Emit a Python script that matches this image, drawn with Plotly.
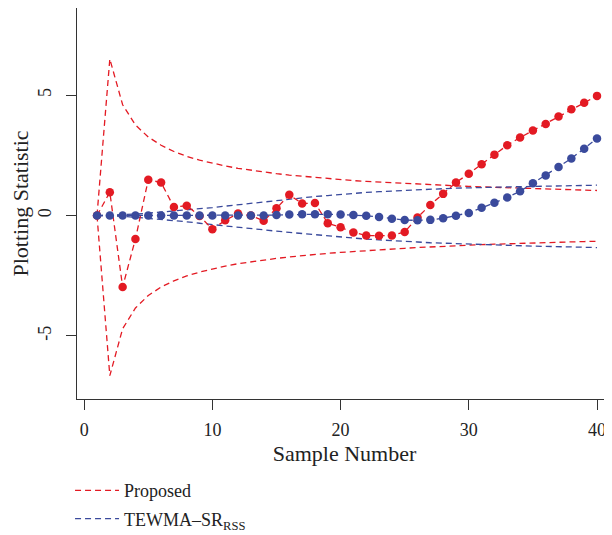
import plotly.graph_objects as go

samples = list(range(1, 41))

proposed_stat = [0, 0.97, -2.97, -0.97, 1.49, 1.37, 0.35, 0.41, -0.02, -0.57,
                 -0.2, 0.08, 0.0, -0.22, 0.3, 0.86, 0.5, 0.52, -0.32, -0.49,
                 -0.7, -0.83, -0.84, -0.83, -0.68, -0.08, 0.44, 0.9, 1.37, 1.74,
                 2.13, 2.53, 2.92, 3.24, 3.53, 3.8, 4.11, 4.41, 4.68, 4.97]

proposed_ucl = [0, 6.5, 4.6, 3.76, 3.26, 2.92, 2.66, 2.46, 2.3, 2.17,
                2.06, 1.96, 1.88, 1.8, 1.74, 1.68, 1.63, 1.58, 1.53, 1.49,
                1.45, 1.42, 1.39, 1.36, 1.33, 1.3, 1.28, 1.25, 1.23, 1.21,
                1.19, 1.17, 1.15, 1.13, 1.12, 1.1, 1.08, 1.07, 1.06, 1.04]

proposed_lcl = [0, -6.65, -4.7, -3.84, -3.32, -2.97, -2.71, -2.51, -2.35, -2.22,
                -2.1, -2.0, -1.92, -1.84, -1.78, -1.72, -1.66, -1.61, -1.57, -1.53,
                -1.49, -1.45, -1.42, -1.39, -1.36, -1.33, -1.3, -1.28, -1.26, -1.23,
                -1.21, -1.19, -1.17, -1.16, -1.14, -1.12, -1.11, -1.09, -1.08, -1.07]

tewma_stat = [0, 0, 0, 0, 0, 0, 0, 0, 0, 0,
              0, 0, 0, 0, 0.02, 0.04, 0.05, 0.05, 0.05, 0.04,
              0.02, -0.01, -0.06, -0.13, -0.19, -0.2, -0.18, -0.11, -0.01, 0.11,
              0.32, 0.53, 0.75, 1.01, 1.34, 1.66, 2.02, 2.37, 2.77, 3.2]

tewma_ucl = [0, 0.01, 0.03, 0.06, 0.1, 0.14, 0.18, 0.23, 0.28, 0.33,
             0.39, 0.45, 0.51, 0.57, 0.63, 0.69, 0.74, 0.79, 0.83, 0.88,
             0.92, 0.96, 0.99, 1.02, 1.05, 1.08, 1.1, 1.12, 1.14, 1.15,
             1.17, 1.18, 1.19, 1.2, 1.21, 1.22, 1.23, 1.24, 1.25, 1.26]

tewma_lcl = [0, -0.01, -0.03, -0.07, -0.11, -0.16, -0.21, -0.26, -0.32, -0.38,
             -0.43, -0.49, -0.55, -0.6, -0.65, -0.7, -0.75, -0.8, -0.85, -0.9,
             -0.94, -0.98, -1.01, -1.05, -1.08, -1.1, -1.13, -1.15, -1.17, -1.19,
             -1.21, -1.23, -1.25, -1.26, -1.27, -1.28, -1.3, -1.31, -1.32, -1.33]

x_ticks = [0, 10, 20, 30, 40]
y_ticks = [-5, 0, 5]

RED = "#E31A23"
BLUE = "#3A4A9C"
FONT = "Liberation Serif"
DASH = "6px,4px"

fig = go.Figure()

# control limits
fig.add_trace(go.Scatter(x=samples, y=proposed_ucl, mode="lines", name="Proposed",
                         legendgroup="a",
                         line=dict(color=RED, width=1.3, dash=DASH)))
fig.add_trace(go.Scatter(x=samples, y=proposed_lcl, mode="lines", showlegend=False,
                         legendgroup="a",
                         line=dict(color=RED, width=1.3, dash=DASH)))
fig.add_trace(go.Scatter(x=samples, y=tewma_ucl, mode="lines",
                         name="TEWMA\u2013SR<sub>RSS</sub>", legendgroup="b",
                         line=dict(color=BLUE, width=1.3, dash=DASH)))
fig.add_trace(go.Scatter(x=samples, y=tewma_lcl, mode="lines", showlegend=False,
                         legendgroup="b",
                         line=dict(color=BLUE, width=1.3, dash=DASH)))

# plotting statistics
fig.add_trace(go.Scatter(x=samples, y=proposed_stat, mode="lines+markers", showlegend=False,
                         line=dict(color=RED, width=1.3, dash=DASH),
                         marker=dict(color=RED, size=8.5)))
fig.add_trace(go.Scatter(x=samples, y=tewma_stat, mode="lines+markers", showlegend=False,
                         line=dict(color=BLUE, width=1.3, dash=DASH),
                         marker=dict(color=BLUE, size=8.5)))

# the page body has an 8px margin, so the figure is 8px smaller and offset
fig.update_layout(
    width=604, height=527,
    margin=dict(l=69, r=0, t=0, b=136, autoexpand=False),
    paper_bgcolor="white", plot_bgcolor="white",
    font=dict(family=FONT, size=18, color="#222222"),
    showlegend=True,
    legend=dict(x=-0.013, y=-0.187, xanchor="left", yanchor="top",
                traceorder="grouped", tracegroupgap=2,
                font=dict(family=FONT, size=18, color="#222222"),
                bgcolor="rgba(0,0,0,0)", itemwidth=44),
    xaxis=dict(range=[-0.56, 41.17], tickvals=x_ticks, ticks="outside", ticklen=10,
               tickwidth=1, tickcolor="#333333", showgrid=False, zeroline=False,
               showline=True, linecolor="#333333", linewidth=1.3, mirror=True,
               automargin=False, ticklabelstandoff=4,
               title=dict(text="Sample Number", standoff=6),
               tickfont=dict(size=18)),
    yaxis=dict(range=[-7.62, 8.62], tickvals=y_ticks, ticktext=["-5", "0", "5"],
               ticks="outside", ticklen=10, tickwidth=1, tickcolor="#333333",
               showgrid=False, zeroline=False, showline=True, linecolor="#333333",
               linewidth=1.3, tickangle=-90, automargin=False, ticklabelstandoff=8,
               title=dict(text="Plotting Statistic", standoff=10),
               tickfont=dict(size=18)),
)

fig.write_html("out.html")
